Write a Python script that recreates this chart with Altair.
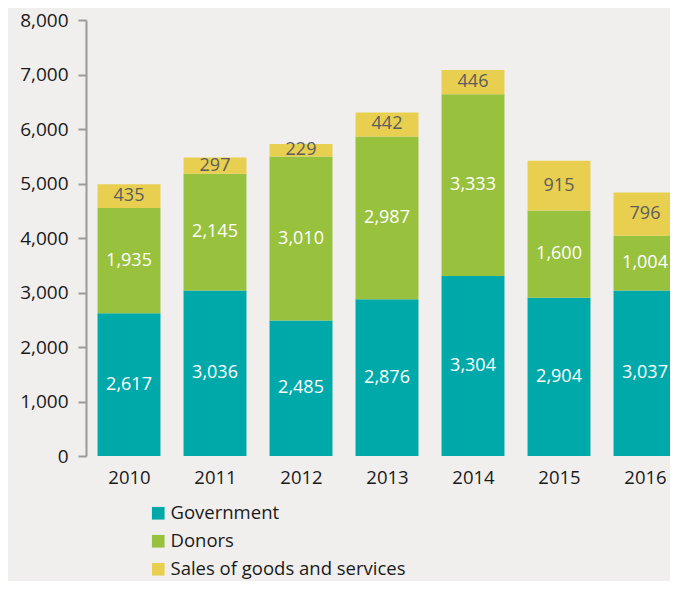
import altair as alt
import pandas as pd

years = [2010, 2011, 2012, 2013, 2014, 2015, 2016]
government = [2617, 3036, 2485, 2876, 3304, 2904, 3037]
donors = [1935, 2145, 3010, 2987, 3333, 1600, 1004]
sales = [435, 297, 229, 442, 446, 915, 796]

series = ["Government", "Donors", "Sales of goods and services"]
colors = ["#00a9a9", "#98c13d", "#e9cf50"]
label_colors = ["#ffffff", "#ffffff", "#5d5d5d"]

rows = []
for i, y in enumerate(years):
    for k, (name, vals) in enumerate(zip(series, [government, donors, sales])):
        rows.append({"year": y, "series": name, "value": vals[i], "order": k,
                     "lcolor": label_colors[k]})
df = pd.DataFrame(rows)

FONT = "Open Sans"
HALF = 0.366

base = alt.Chart(df).transform_stack(
    stack="value", groupby=["year"], as_=["y0", "y1"],
    sort=[alt.SortField("order", order="ascending")]
).transform_calculate(
    mid="(datum.y0 + datum.y1) / 2",
    xa=f"datum.year - {HALF}",
    xb=f"datum.year + {HALF}",
)

xscale = alt.Scale(domain=[2009.5, 2016.2907], nice=False, zero=False)
xaxis = alt.Axis(values=years, format="d", domain=False, ticks=False,
                 grid=False, labelAngle=0, labelFontSize=18.5,
                 labelColor="#1a1a1a", labelFont=FONT, labelPadding=12,
                 labelFlush=False)

yscale = alt.Scale(domain=[0, 8000], nice=False)

bars = base.mark_bar(clip=True).encode(
    x=alt.X("xa:Q", title=None, scale=xscale, axis=xaxis),
    x2="xb:Q",
    y=alt.Y("y0:Q", title=None, scale=yscale,
            axis=alt.Axis(values=list(range(0, 8001, 1000)), format=",d",
                          grid=False, domainColor="#9a9a9a", domainWidth=2,
                          tickColor="#9a9a9a", tickWidth=2, tickSize=8,
                          labelFontSize=19, labelColor="#1a1a1a",
                          labelFont=FONT, labelPadding=10)),
    y2="y1:Q",
    color=alt.Color("series:N",
                    scale=alt.Scale(domain=series, range=colors),
                    sort=series,
                    legend=alt.Legend(title=None, orient="none",
                                      legendX=63, legendY=484,
                                      symbolType="square", symbolSize=160,
                                      symbolStrokeWidth=0, labelLimit=500,
                                      labelFontSize=18.5, labelFont=FONT,
                                      labelColor="#1a1a1a", labelOffset=3,
                                      rowPadding=9)),
)

text = base.mark_text(fontSize=18, font=FONT, baseline="middle").encode(
    x=alt.X("year:Q", scale=xscale),
    y=alt.Y("mid:Q", scale=yscale),
    text=alt.Text("value:Q", format=","),
    color=alt.Color("lcolor:N", scale=None),
)

chart = alt.layer(bars, text).properties(
    width=584, height=436,
    autosize=alt.AutoSizeParams(type="none"),
    padding={"left": 78, "top": 12, "right": 0, "bottom": 125},
    background="#f0efed",
).configure_view(stroke=None)

chart.save("out.html", embed_options={"renderer": "svg", "actions": False})
